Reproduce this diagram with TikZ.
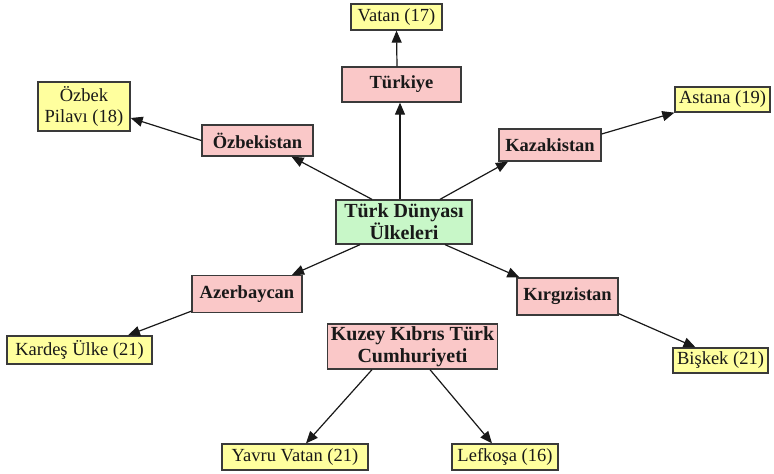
\documentclass[tikz,border=0pt]{standalone}
\usepackage{fontspec}
\setmainfont{Liberation Serif}
\usetikzlibrary{arrows.meta}
\definecolor{yel}{HTML}{FFFF9E}
\definecolor{pnk}{HTML}{FAC8C8}
\definecolor{grn}{HTML}{C8F7C8}
\definecolor{edge}{HTML}{3A3A3A}
\begin{document}
\begin{tikzpicture}[x=1pt,y=-1pt,
  box/.style={draw=edge, line width=1.3pt, inner sep=0pt, align=center, text=black!90},
  leaf/.style={box, fill=yel, font=\fontsize{18.5}{21}\selectfont},
  country/.style={box, fill=pnk, font=\fontsize{18.5}{21}\selectfont\bfseries},
  bigc/.style={box, font=\fontsize{20}{22}\selectfont\bfseries},
  arr/.style={-{Triangle[length=12pt,width=10pt]}, line width=1.2pt, draw=black!90}]
\useasboundingbox (0,0) rectangle (774,474);
\fill[white] (0,0) rectangle (774,474);

\node[leaf, minimum width=91pt, minimum height=26pt] (vatan) at (396.5,17) {Vatan (17)};
\node[country, minimum width=119pt, minimum height=35pt] (turkiye) at (401.5,84.5) {Türkiye};
\node[leaf, minimum width=92pt, minimum height=49pt] (ozbekp) at (84,106.5) {Özbek\\Pilavı (18)};
\node[country, minimum width=111pt, minimum height=31pt] (ozbek) at (257.5,140.5) {Özbekistan};
\node[leaf, minimum width=95pt, minimum height=25pt] (astana) at (722.5,99.5) {Astana (19)};
\node[country, minimum width=102pt, minimum height=32pt] (kazak) at (550,145) {Kazakistan};
\node[bigc, fill=grn, minimum width=136pt, minimum height=44pt] (center) at (404,222) {Türk Dünyası\\Ülkeleri};
\node[country, minimum width=110pt, minimum height=37pt] (aze) at (247,294) {Azerbaycan};
\node[country, minimum width=101pt, minimum height=37pt] (kirg) at (567.5,296.5) {Kırgızistan};
\node[leaf, minimum width=145pt, minimum height=28pt] (kardes) at (79.5,350) {Kardeş Ülke (21)};
\node[bigc, fill=pnk, minimum width=170pt, minimum height=45pt] (kktc) at (412.5,346.5) {Kuzey Kıbrıs Türk\\Cumhuriyeti};
\node[leaf, minimum width=95pt, minimum height=25pt] (biskek) at (720.5,360.5) {Bişkek (21)};
\node[leaf, minimum width=146pt, minimum height=26pt] (yavru) at (295,457) {Yavru Vatan (21)};
\node[leaf, minimum width=106pt, minimum height=26pt] (lefkosa) at (505,457) {Lefkoşa (16)};

\draw[arr] ([xshift=-4pt]center.north) -- ([xshift=-1.5pt]turkiye.south);
\draw[arr] ([xshift=-4.5pt]turkiye.north) -- (vatan.south);
\draw[arr] ([xshift=-32pt]center.north) -- ([xshift=34pt]ozbek.south);
\draw[arr] (ozbek.west) -- ([yshift=-11.5pt]ozbekp.east);
\draw[arr] ([xshift=36pt]center.north) -- ([xshift=-42pt]kazak.south);
\draw[arr] ([yshift=11pt]kazak.east) -- (astana.south west);
\draw[arr] ([xshift=-44pt]center.south) -- ([xshift=45pt]aze.north);
\draw[arr] ([yshift=2pt]aze.south west) -- ([xshift=48.5pt]kardes.north);
\draw[arr] ([xshift=41pt]center.south) -- ([xshift=3pt]kirg.north west);
\draw[arr] ([yshift=2pt]kirg.south east) -- ([xshift=-25pt]biskek.north);
\draw[arr] ([xshift=-40.5pt]kktc.south) -- ([xshift=11pt]yavru.north);
\draw[arr] ([xshift=17.5pt]kktc.south) -- ([xshift=-13pt]lefkosa.north);
\end{tikzpicture}
\end{document}
